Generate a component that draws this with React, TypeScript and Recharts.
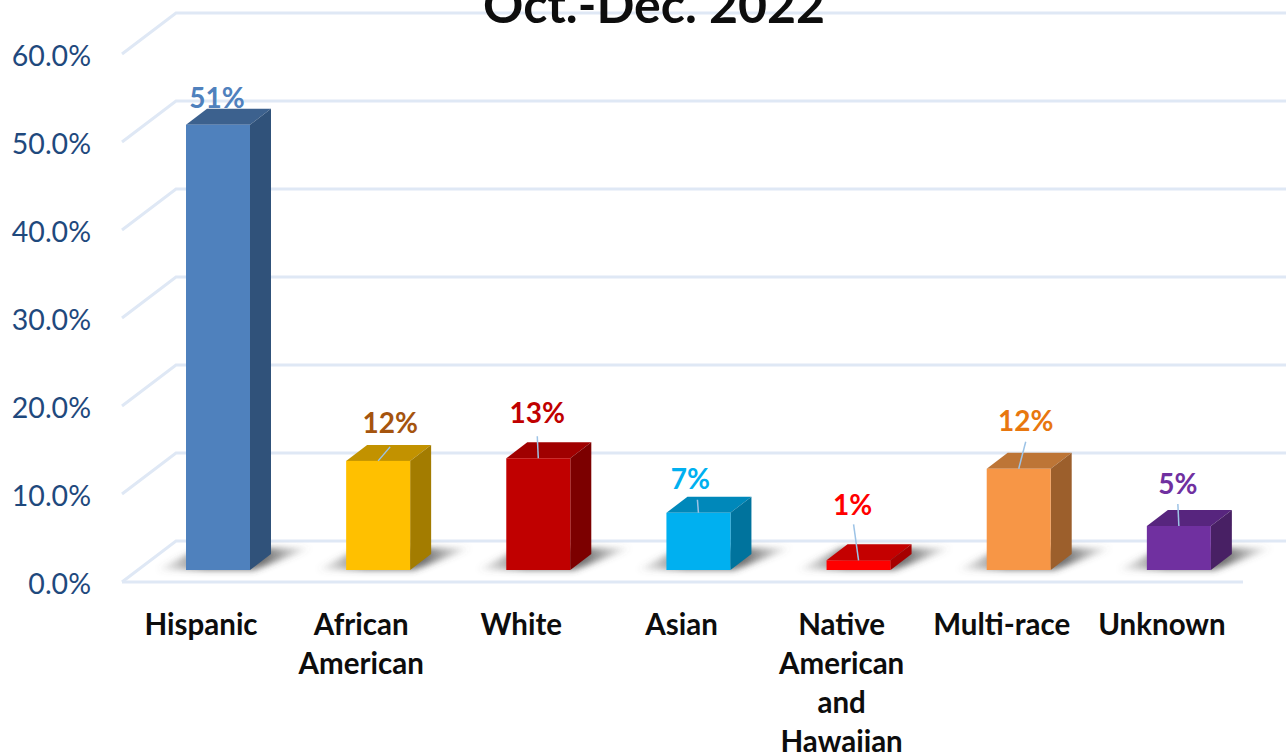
import { BarChart, Bar, XAxis, YAxis, CartesianGrid, LabelList } from "recharts";

const categories = ["Hispanic", "African American", "White", "Asian", "Native American and Hawaiian", "Multi-race", "Unknown"];
const shares = [50.6, 12.4, 12.7, 6.5, 1.1, 11.5, 5.0];
const yTicks = [0, 10, 20, 30, 40, 50, 60];

const frontColors = ["#4f81bd", "#ffc000", "#c00000", "#00b0f0", "#ff0000", "#f79646", "#7030a0"];
const topColors = ["#3c618e", "#c29200", "#a00000", "#0088ba", "#c40000", "#bd7536", "#57257e"];
const sideColors = ["#30527a", "#a37c00", "#7c0000", "#00739d", "#a60000", "#9c5f2c", "#482064"];
const labelColors = ["#4f81bd", "#a5540e", "#c00000", "#00b0f0", "#ff0000", "#e8770f", "#7030a0"];

// label centre relative to the bar's front top centre, and leader end points
const labelShift = [[-1, -28], [12, -39], [-1, -46], [-8, -35], [-6, -56], [7, -49], [-1, -43]];
const leaderShift = [null, [12, -14], [-1, -22], [-1, -13], [-5, -36], [7, -27], [-1, -22]];

const data = categories.map((name, i) => ({ name, share: shares[i] }));

const FONT = "Lato, Carlito, sans-serif";
const GRID = "#dfe8f5";
const DX = 21; // depth of the 3d look
const DY = 16;
const BAR_SHIFT_X = 16;
const BAR_SHIFT_Y = -12;

function WallLine(props: any) {
  const { x1, y1 } = props;
  return (
    <polyline
      points={`${x1},${y1} ${x1 + 54},${y1 - 41} 1286,${y1 - 41}`}
      fill="none"
      stroke={GRID}
      strokeWidth={3}
    />
  );
}

function Bar3D(props: any) {
  const { x, y, width, height, index } = props;
  const left = x + BAR_SHIFT_X;
  const right = left + width;
  const top = y + BAR_SHIFT_Y;
  const base = top + height;
  return (
    <g>
      <polygon
        points={`${left - 30},${base} ${right + 4},${base} ${right + 62},${base - 22} ${left + 14},${base - 22}`}
        fill="url(#floorShadow)"
        filter="url(#soft)"
      />
      <polygon points={`${left},${top} ${left + DX},${top - DY} ${right + DX},${top - DY} ${right},${top}`} fill={topColors[index]} />
      <polygon points={`${right},${top} ${right + DX},${top - DY} ${right + DX},${base - DY} ${right},${base}`} fill={sideColors[index]} />
      <rect x={left} y={top} width={width} height={height} fill={frontColors[index]} />
    </g>
  );
}

function ValueLabel(props: any) {
  const { x, y, width, value, index } = props;
  const cx = x + BAR_SHIFT_X + width / 2;
  const top = y + BAR_SHIFT_Y;
  const leader = leaderShift[index];
  return (
    <g>
      {leader && <line x1={cx} y1={top} x2={cx + leader[0]} y2={top + leader[1]} stroke="#9dc3e6" strokeWidth={1.5} />}
      <text
        x={cx + labelShift[index][0]}
        y={top + labelShift[index][1]}
        textAnchor="middle"
        dominantBaseline="central"
        fontFamily={FONT}
        fontWeight={700}
        fontSize={28}
        fill={labelColors[index]}
      >
        {Math.round(value)}%
      </text>
    </g>
  );
}

function CategoryTick(props: any) {
  const { x, y, payload } = props;
  const words = String(payload.value).split(" ");
  return (
    <text x={x - 1} y={y} textAnchor="middle" fontFamily={FONT} fontWeight={700} fontSize={29.5} fill="#0d0d0d">
      {words.map((w, i) => (
        <tspan key={i} x={x - 1} y={y + 45 + i * 39}>
          {w}
        </tspan>
      ))}
    </text>
  );
}

function ValueTick(props: any) {
  const { x, y, payload } = props;
  return (
    <text x={x} y={y + 1} textAnchor="end" dominantBaseline="central" fontFamily={FONT} fontSize={28.5} fill="#1f497d">
      {`${payload.value.toFixed(1)}%`}
    </text>
  );
}

export default function App() {
  return (
    <div style={{ position: "absolute", left: 0, top: 0, width: 1286, height: 753, overflow: "hidden", background: "#fff" }}>
      <BarChart
        width={1286}
        height={753}
        data={data}
        barSize={64}
        margin={{ top: 54, right: 43, bottom: 0, left: 0 }}
      >
        <defs>
          <linearGradient id="floorShadow" x1="0" y1="0" x2="1" y2="0">
            <stop offset="0" stopColor="#666" stopOpacity={0} />
            <stop offset="0.32" stopColor="#444" stopOpacity={0.75} />
            <stop offset="0.7" stopColor="#444" stopOpacity={0.75} />
            <stop offset="1" stopColor="#666" stopOpacity={0} />
          </linearGradient>
          <filter id="soft" x="-20%" y="-40%" width="140%" height="180%">
            <feGaussianBlur stdDeviation="3" />
          </filter>
        </defs>
        <CartesianGrid vertical={false} horizontal={(p: any) => <WallLine key={p.key} {...p} />} />
        <XAxis
          dataKey="name"
          height={171}
          interval={0}
          tickLine={false}
          axisLine={{ stroke: GRID, strokeWidth: 3 }}
          tick={<CategoryTick />}
        />
        <YAxis
          domain={[0, 60]}
          ticks={yTicks}
          width={122}
          axisLine={false}
          tickLine={false}
          tickMargin={31}
          tickSize={0}
          tick={<ValueTick />}
        />
        <Bar dataKey="share" isAnimationActive={false} shape={<Bar3D />}>
          <LabelList dataKey="share" content={<ValueLabel />} />
        </Bar>
        <text x={654} y={23} textAnchor="middle" fontFamily={FONT} fontWeight={700} fontSize={50} fill="#0d0d0d">
          Oct.-Dec. 2022
        </text>
      </BarChart>
    </div>
  );
}
